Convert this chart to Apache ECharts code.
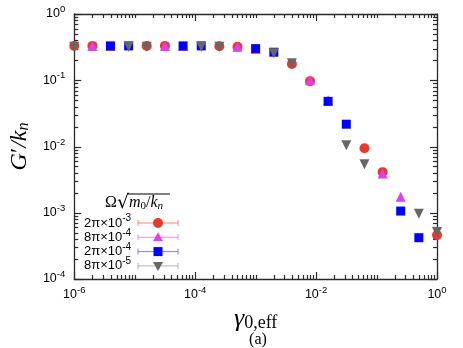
<!DOCTYPE html>
<html>
<head>
<meta charset="utf-8">
<script src="https://cdn.jsdelivr.net/npm/echarts@6/dist/echarts.min.js"></script>
<style>
  html, body { margin: 0; padding: 0; background: #fff; }
  #chart { width: 463px; height: 348px; }
</style>
</head>
<body>
<div id="chart"></div>
<script>
// data
const seriesNames = ['2π×10-3', '8π×10-4', '2π×10-4', '8π×10-5']
const labelMantissa = ['2π×10', '8π×10', '2π×10', '8π×10']
const labelExponent = ['-3', '-4', '-4', '-5']

const gammaRed = [1e-6, 2e-6, 1.58e-5, 3.16e-5, 2.51e-4, 5.01e-4, 3.98e-3, 7.94e-3, 6.31e-2, 0.126, 1.0]
const modRed = [0.33, 0.33, 0.33, 0.33, 0.325, 0.32, 0.176, 0.097, 0.0094, 0.0041, 0.00046]

const gammaMagenta = [2e-6, 3.98e-6, 3.16e-5, 6.31e-5, 5.01e-4, 1e-3, 7.94e-3, 1.58e-2, 0.126, 0.251]
const modMagenta = [0.33, 0.33, 0.33, 0.33, 0.32, 0.30, 0.10, 0.05, 0.0039, 0.00175]

const gammaBlue = [3.98e-6, 7.94e-6, 6.31e-5, 1.26e-4, 1e-3, 2e-3, 1.58e-2, 3.16e-2, 0.251, 0.501]
const modBlue = [0.33, 0.33, 0.33, 0.33, 0.30, 0.265, 0.048, 0.0217, 0.00106, 0.00042]

const gammaGrey = [1e-6, 7.94e-6, 1.58e-5, 1.26e-4, 2.51e-4, 2e-3, 3.98e-3, 3.16e-2, 6.31e-2, 0.501, 1.0]
const modGrey = [0.32, 0.32, 0.32, 0.32, 0.32, 0.255, 0.18, 0.0104, 0.0054, 0.00097, 0.00051]

const xMin = 1e-6
const xMax = 1
const yMin = 1e-4
const yMax = 1
const xDecades = [1e-6, 1e-5, 1e-4, 1e-3, 1e-2, 1e-1, 1]
const xLabelTicks = [1e-6, 1e-4, 1e-2, 1]
const yDecades = [1e-4, 1e-3, 1e-2, 1e-1, 1]
const yLabelTicks = [1e-4, 1e-3, 1e-2, 1e-1, 1]

const colors = ['#e8392c', '#e33fe6', '#0000ff', '#666666']
const barColors = ['#f0877f', '#f08cf0', '#7f7fff', '#b4b4b4']

const tickFont = 'Liberation Sans'
const serif = 'Liberation Serif'
const axisColor = '#2a2a2a'
const majorLen = 7
const minorLen = 4

// tick list: decades (long where labelled) plus 2..9 inside every decade
function tickList (decades, labelled) {
  const out = []
  decades.forEach((d, i) => {
    out.push([d, labelled.indexOf(d) >= 0 ? majorLen : minorLen])
    if (i < decades.length - 1) {
      for (let m = 2; m <= 9; m++) out.push([d * m, minorLen])
    }
  })
  return out
}

const powLabel = (v) => '{b|10}{s|' + Math.round(Math.log10(v)) + '}'
const powRich = {
  b: { fontFamily: tickFont, fontSize: 12.5, color: '#000' },
  s: { fontFamily: tickFont, fontSize: 9.5, color: '#000', padding: [0, 0, 9, 0] }
}

function logAxis (kind, position, min, max, labels, extra) {
  return Object.assign({
    type: 'log',
    logBase: 10,
    position,
    min,
    max,
    axisLine: { show: true, onZero: false, lineStyle: { color: axisColor, width: 1.3 } },
    axisTick: { show: false },
    axisLabel: labels ? {
      show: true,
      customValues: labels,
      formatter: powLabel,
      rich: powRich,
      margin: kind === 'x' ? 6 : 9,
      showMinLabel: true,
      showMaxLabel: true
    } : { show: false },
    splitLine: { show: false },
    minorTick: { show: false }
  }, extra || {})
}

const xAxes = [
  logAxis('x', 'bottom', xMin, xMax, xLabelTicks, {
    name: '{g|γ}{sub|0,eff}',
    nameLocation: 'middle',
    nameGap: 24,
    nameTextStyle: {
      rich: {
        g: { fontFamily: serif, fontStyle: 'italic', fontSize: 26, color: '#000' },
        sub: { fontFamily: serif, fontSize: 18, color: '#000', padding: [8, 0, 0, 0] }
      }
    }
  }),
  logAxis('x', 'top', xMin, xMax, null)
]

const yAxes = [
  logAxis('y', 'left', yMin, yMax, yLabelTicks, {
    name: '{i|G}{p|′}{i|/k}{sub|n}',
    nameLocation: 'middle',
    nameRotate: 90,
    nameGap: 38,
    nameTextStyle: {
      rich: {
        i: { fontFamily: serif, fontStyle: 'italic', fontSize: 24, color: '#000' },
        p: { fontFamily: serif, fontSize: 24, color: '#000' },
        sub: { fontFamily: serif, fontStyle: 'italic', fontSize: 16, color: '#000', padding: [8, 0, 0, 0] }
      }
    }
  }),
  logAxis('y', 'right', yMin, yMax, null)
]

const pairs = (xs, ys) => xs.map((x, i) => [x, ys[i]])

const seriesDefs = [
  { data: pairs(gammaRed, modRed), symbol: 'circle', symbolSize: 10, rotate: 0 },
  { data: pairs(gammaMagenta, modMagenta), symbol: 'triangle', symbolSize: 10, rotate: 0 },
  { data: pairs(gammaBlue, modBlue), symbol: 'rect', symbolSize: 9, rotate: 0 },
  { data: pairs(gammaGrey, modGrey), symbol: 'triangle', symbolSize: 10, rotate: 180 }
]

const series = seriesDefs.map((d, i) => ({
  name: seriesNames[i],
  type: 'scatter',
  xAxisIndex: 0,
  yAxisIndex: 0,
  data: d.data,
  symbol: d.symbol,
  symbolSize: d.symbolSize,
  symbolRotate: d.rotate,
  clip: false,
  itemStyle: { color: colors[i], opacity: 1 },
  emphasis: { disabled: true }
}))

// legend with error-bar style keys
const legendX0 = 138
const legendX1 = 178
const legendTop = 223
const legendStep = 14.3
const legendGraphics = []
seriesDefs.forEach((d, i) => {
  const y = legendTop + i * legendStep
  const mid = (legendX0 + legendX1) / 2
  const ls = { stroke: barColors[i], lineWidth: 1 }
  legendGraphics.push(
    { type: 'line', shape: { x1: legendX0, y1: y, x2: legendX1, y2: y }, style: ls },
    { type: 'line', shape: { x1: legendX0, y1: y - 3, x2: legendX0, y2: y + 3 }, style: ls },
    { type: 'line', shape: { x1: legendX1, y1: y - 3, x2: legendX1, y2: y + 3 }, style: ls }
  )
  let marker
  if (d.symbol === 'circle') {
    marker = { type: 'circle', shape: { cx: mid, cy: y, r: 5 } }
  } else if (d.symbol === 'rect') {
    marker = { type: 'rect', shape: { x: mid - 4.5, y: y - 4.5, width: 9, height: 9 } }
  } else if (d.rotate === 180) {
    marker = { type: 'polygon', shape: { points: [[mid - 5, y - 4], [mid + 5, y - 4], [mid, y + 5]] } }
  } else {
    marker = { type: 'polygon', shape: { points: [[mid, y - 5], [mid + 5, y + 4], [mid - 5, y + 4]] } }
  }
  marker.style = { fill: colors[i] }
  legendGraphics.push(marker)
  legendGraphics.push({
    type: 'text',
    x: 84,
    y: y,
    style: {
      text: '{m|' + labelMantissa[i] + '}{e|' + labelExponent[i] + '}',
      verticalAlign: 'middle',
      rich: {
        m: { fontFamily: tickFont, fontSize: 13, fill: '#000' },
        e: { fontFamily: tickFont, fontSize: 10, fill: '#000', padding: [0, 0, 9, 0] }
      }
    }
  })
})

const extraText = [
  {
    type: 'text',
    x: 105,
    y: 203,
    style: {
      text: '{o|Ω}{r|√}{i|m}{sb|0}{o|/}{i|k}{sbi|n}',
      verticalAlign: 'middle',
      rich: {
        o: { fontFamily: serif, fontSize: 16, fill: '#000' },
        r: { fontFamily: 'DejaVu Serif', fontSize: 19, fill: '#000' },
        i: { fontFamily: serif, fontStyle: 'italic', fontSize: 16, fill: '#000' },
        sb: { fontFamily: serif, fontSize: 11, fill: '#000', padding: [6, 0, 0, 0] },
        sbi: { fontFamily: serif, fontStyle: 'italic', fontSize: 11, fill: '#000', padding: [6, 0, 0, 0] }
      }
    }
  },
  { type: 'line', shape: { x1: 128, y1: 194, x2: 170, y2: 194 }, style: { stroke: '#000', lineWidth: 1 } },
  {
    type: 'text',
    x: 258,
    y: 340,
    style: { text: '(a)', fontFamily: serif, fontSize: 16, fill: '#000', align: 'center', verticalAlign: 'middle' }
  }
]

const chart = echarts.init(document.getElementById('chart'), null, { renderer: 'canvas' })
chart.setOption({
  animation: false,
  backgroundColor: '#fff',
  grid: { left: 70, right: 26, top: 14, bottom: 69, containLabel: false },
  xAxis: xAxes,
  yAxis: yAxes,
  series
})

// inward ticks on all four edges, positioned through the axes' scales
const tickStyle = { stroke: axisColor, lineWidth: 1.2 }
const tickGraphics = []
const xb = chart.convertToPixel({ yAxisIndex: 0 }, yMin)
const xt = chart.convertToPixel({ yAxisIndex: 0 }, yMax)
tickList(xDecades, xLabelTicks).forEach(([v, len]) => {
  const px = Math.round(chart.convertToPixel({ xAxisIndex: 0 }, v)) + 0.5
  tickGraphics.push(
    { type: 'line', z: 1, shape: { x1: px, y1: xb, x2: px, y2: xb - len }, style: tickStyle },
    { type: 'line', z: 1, shape: { x1: px, y1: xt, x2: px, y2: xt + len }, style: tickStyle }
  )
})
const yl = chart.convertToPixel({ xAxisIndex: 0 }, xMin)
const yr = chart.convertToPixel({ xAxisIndex: 0 }, xMax)
tickList(yDecades, yLabelTicks).forEach(([v, len]) => {
  const py = Math.round(chart.convertToPixel({ yAxisIndex: 0 }, v)) + 0.5
  tickGraphics.push(
    { type: 'line', z: 1, shape: { x1: yl, y1: py, x2: yl + len, y2: py }, style: tickStyle },
    { type: 'line', z: 1, shape: { x1: yr, y1: py, x2: yr - len, y2: py }, style: tickStyle }
  )
})

chart.setOption({ graphic: tickGraphics.concat(legendGraphics, extraText) })
</script>
</body>
</html>
